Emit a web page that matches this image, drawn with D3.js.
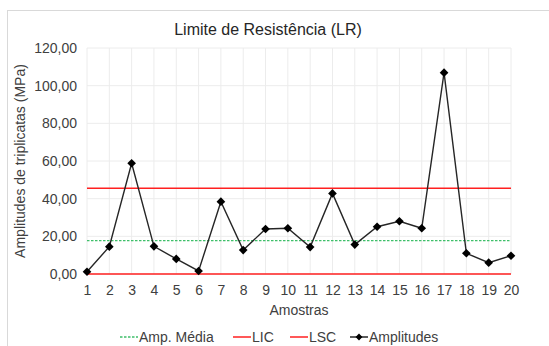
<!DOCTYPE html>
<html>
<head>
<meta charset="utf-8">
<script src="https://cdn.jsdelivr.net/npm/d3@7"></script>
<style>
  body { margin: 0; background: #fff; }
  svg { font-family: "Liberation Sans", Arial, sans-serif; }
</style>
</head>
<body>
<div id="chart"></div>
<script>
// data
const amostras = d3.range(1, 21);
const amplitudes = [1.2, 14.5, 58.8, 14.7, 8.0, 1.6, 38.4, 12.7, 23.9, 24.3,
                    14.3, 42.8, 15.6, 25.1, 28.0, 24.3, 106.9, 11.0, 6.0, 9.7];
const ampMedia = 17.68;
const lic = 0;
const lsc = 45.5;
const yTicks = [0, 20, 40, 60, 80, 100, 120];
const legendItems = ["Amp. Média", "LIC", "LSC", "Amplitudes"];

const W = 549, H = 346;
const margin = {top: 48, right: 38, bottom: 72, left: 87};
const width = W - margin.left - margin.right,
      height = H - margin.top - margin.bottom;

const svg = d3.select("#chart").append("svg")
    .attr("width", W)
    .attr("height", H);

// outer border
svg.append("rect")
    .attr("x", 7.5).attr("y", 10.5)
    .attr("width", W).attr("height", H)
    .attr("fill", "none").attr("stroke", "#d9d9d9");

const g = svg.append("g")
    .attr("transform", `translate(${margin.left},${margin.top})`);

const x = d3.scalePoint().domain(amostras).range([0, width]);
const y = d3.scaleLinear().domain([0, 120]).range([height, 0]);

const fmt = d => d.toFixed(2).replace(".", ",");

// grid
g.append("g")
    .selectAll("line")
    .data(yTicks)
    .join("line")
        .attr("x1", 0).attr("x2", width)
        .attr("y1", d => y(d)).attr("y2", d => y(d))
        .attr("stroke", "#ececec");
g.append("g")
    .selectAll("line")
    .data(amostras)
    .join("line")
        .attr("x1", d => x(d)).attr("x2", d => x(d))
        .attr("y1", 0).attr("y2", height)
        .attr("stroke", "#ececec");

// axes
const yAxis = g.append("g")
    .call(d3.axisLeft(y).tickValues(yTicks).tickFormat(fmt).tickSize(0).tickPadding(10));
yAxis.select(".domain").remove();
yAxis.selectAll("text").style("font-size", "14px").style("fill", "#404040")
    .style("font-family", "Liberation Sans, Arial, sans-serif");

const xAxis = g.append("g")
    .attr("transform", `translate(0,${height})`)
    .call(d3.axisBottom(x).tickSize(0).tickPadding(11));
xAxis.select(".domain").remove();
xAxis.selectAll("text").style("font-size", "14px").style("fill", "#404040")
    .style("font-family", "Liberation Sans, Arial, sans-serif");

// control lines
g.append("line")
    .attr("x1", 0).attr("x2", width)
    .attr("y1", y(ampMedia)).attr("y2", y(ampMedia))
    .attr("stroke", "#3fbf6a").attr("stroke-width", 1.3)
    .attr("stroke-dasharray", "2.5,1.5");
g.append("line")
    .attr("x1", 0).attr("x2", width)
    .attr("y1", y(lic)).attr("y2", y(lic))
    .attr("stroke", "#ff2020").attr("stroke-width", 1.5);
g.append("line")
    .attr("x1", 0).attr("x2", width)
    .attr("y1", y(lsc)).attr("y2", y(lsc))
    .attr("stroke", "#ff2020").attr("stroke-width", 1.5);

// amplitudes line
const line = d3.line()
    .x((d, i) => x(amostras[i]))
    .y(d => y(d));
g.append("path")
    .datum(amplitudes)
    .attr("d", line)
    .attr("fill", "none")
    .attr("stroke", "#262626")
    .attr("stroke-width", 1.4);

const diamond = d3.symbol().type(d3.symbolDiamond2).size(48);
g.selectAll(".pt")
    .data(amplitudes)
    .join("path")
        .attr("class", "pt")
        .attr("transform", (d, i) => `translate(${x(amostras[i])},${y(d)})`)
        .attr("d", diamond)
        .attr("fill", "#000");

// titles
svg.append("text")
    .attr("x", 268).attr("y", 35)
    .attr("text-anchor", "middle")
    .style("font-size", "16px").style("fill", "#262626")
    .text("Limite de Resistência (LR)");

svg.append("text")
    .attr("x", margin.left + width / 2).attr("y", 315)
    .attr("text-anchor", "middle")
    .style("font-size", "14px").style("fill", "#404040")
    .text("Amostras");

svg.append("text")
    .attr("transform", `translate(25,${margin.top + height / 2}) rotate(-90)`)
    .attr("text-anchor", "middle")
    .style("font-size", "14px").style("fill", "#404040")
    .text("Amplitudes de triplicatas (MPa)");

// legend
const legX = [120, 233, 290, 350];
const legColors = ["#3fbf6a", "#ff2020", "#ff2020", "#262626"];
const legend = svg.append("g").attr("transform", "translate(0,337)");
legendItems.forEach((name, i) => {
    const lg = legend.append("g").attr("transform", `translate(${legX[i]},0)`);
    lg.append("line")
        .attr("x1", 0).attr("x2", 18).attr("y1", 0).attr("y2", 0)
        .attr("stroke", legColors[i])
        .attr("stroke-width", i === 0 ? 1.3 : 1.5)
        .attr("stroke-dasharray", i === 0 ? "2.5,1.5" : null);
    if (i === 3) {
        lg.append("path")
            .attr("transform", "translate(9,0)")
            .attr("d", d3.symbol().type(d3.symbolDiamond2).size(30))
            .attr("fill", "#000");
    }
    lg.append("text")
        .attr("x", 19).attr("y", 5)
        .style("font-size", "14px").style("fill", "#404040")
        .text(name);
});
</script>
</body>
</html>
